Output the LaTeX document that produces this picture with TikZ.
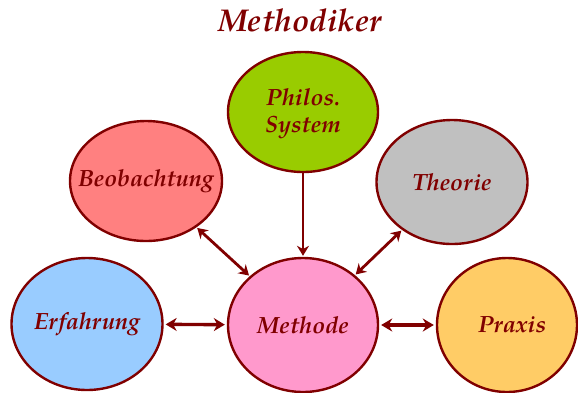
\documentclass[tikz,border=0pt]{standalone}
\usepackage{fontspec}
\setmainfont{texgyrepagella}[Extension=.otf, UprightFont=*-regular, BoldFont=*-bold, ItalicFont=*-italic, BoldItalicFont=*-bolditalic]
\usetikzlibrary{shapes.geometric,arrows.meta}
\definecolor{maroon}{HTML}{800000}
\definecolor{cBlue}{HTML}{99CCFF}
\definecolor{cPink}{HTML}{FF99CC}
\definecolor{cGold}{HTML}{FFCC66}
\definecolor{cRed}{HTML}{FF8080}
\definecolor{cGreen}{HTML}{99CC00}
\definecolor{cGrey}{HTML}{C0C0C0}
\tikzset{
  bubble/.style={ellipse, draw=maroon, line width=2.4pt, inner sep=0pt},
  txt/.style={text=maroon, font=\fontsize{23.5}{27}\selectfont\bfseries\itshape, align=center},
  link/.style={draw=maroon, line width=3.4pt, {Stealth[length=11pt,width=13pt]}-{Stealth[length=11pt,width=13pt]}, shorten <=2pt, shorten >=2pt},
  slant/.style={draw=maroon, line width=2.8pt, {Stealth[length=10pt,width=12pt]}-{Stealth[length=10pt,width=12pt]}, shorten <=1pt, shorten >=1pt},
  onelink/.style={draw=maroon, line width=2.8pt, -{Stealth[length=10pt,width=12pt]}, shorten <=0pt, shorten >=1pt}
}
\begin{document}
\begin{tikzpicture}[x=1pt,y=-1pt]
\useasboundingbox (0,0) rectangle (578,392);
% title
\node[txt, font=\fontsize{31.5}{34}\selectfont\bfseries\itshape] (title) at (300,20) {Methodiker};
% bubbles
\node[bubble, fill=cBlue,  minimum width=151pt, minimum height=132pt, label={[txt]center:Erfahrung}] (erf) at (87,324) {};
\node[bubble, fill=cPink,  minimum width=150pt, minimum height=134pt, label={[txt]center:Methode}] (meth) at (303,325) {};
\node[bubble, fill=cGold,  minimum width=140pt, minimum height=134pt, label={[txt, xshift=5pt]center:Praxis}] (prax) at (507,325) {};
\node[bubble, fill=cRed,   minimum width=152pt, minimum height=120pt, label={[txt]center:Beobachtung}] (beob) at (146,181) {};
\node[bubble, fill=cGreen, minimum width=150pt, minimum height=120pt, label={[txt, yshift=-2pt]center:Philos.\\System}] (phil) at (303,112) {};
\node[bubble, fill=cGrey,  minimum width=151pt, minimum height=124pt, label={[txt]center:Theorie}] (theo) at (452,182) {};
% connectors
\draw[link] (erf) -- (meth);
\draw[link] (meth) -- (prax);
\draw[slant] (beob) -- (meth);
\draw[slant] (theo) -- (meth);
\draw[onelink] (phil) -- (meth);
\end{tikzpicture}
\end{document}
